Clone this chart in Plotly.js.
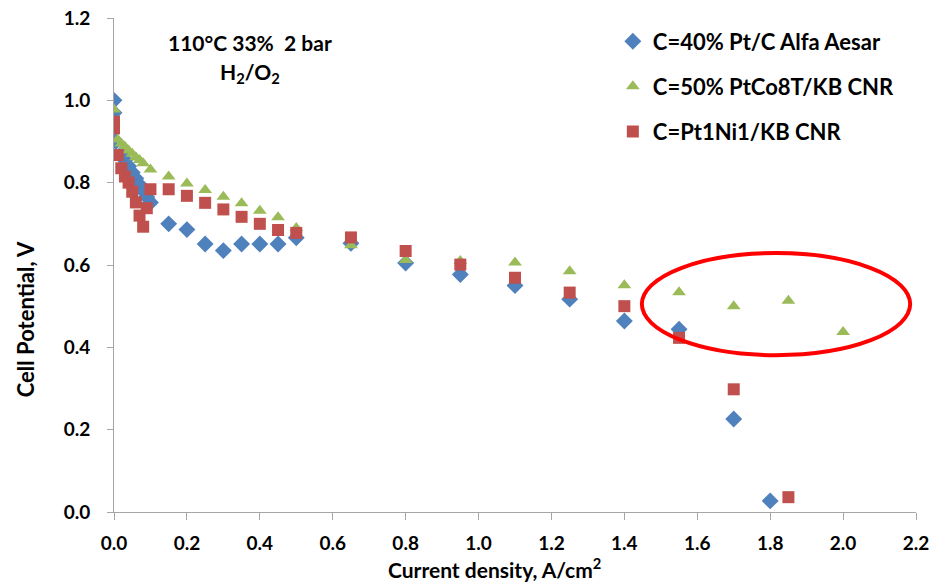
<!DOCTYPE html>
<html>
<head>
<meta charset="utf-8">
<script src="https://cdn.plot.ly/plotly-3.0.1.min.js"></script>
<style>html,body{margin:0;padding:0;background:#fff;}#chart{width:934px;height:587px;}</style>
</head>
<body>
<div id="chart"></div>
<script>
// Series 1: C=40% Pt/C Alfa Aesar
const ptcX = [0, 0, 0.005, 0.02, 0.03, 0.04, 0.05, 0.06, 0.07, 0.08, 0.09, 0.1,
  0.15, 0.2, 0.25, 0.3, 0.35, 0.4, 0.45, 0.5, 0.65, 0.8, 0.95, 1.1, 1.25, 1.4, 1.55, 1.7, 1.8];
const ptcY = [1.0, 0.97, 0.90, 0.87, 0.855, 0.84, 0.825, 0.81, 0.795, 0.78, 0.765, 0.752,
  0.70, 0.686, 0.651, 0.635, 0.651, 0.651, 0.651, 0.666, 0.653, 0.605, 0.577, 0.55, 0.517, 0.464, 0.444, 0.226, 0.027];

// Series 2: C=50% PtCo8T/KB CNR
const ptcoX = [0, 0.01, 0.02, 0.03, 0.04, 0.05, 0.06, 0.07, 0.08, 0.1,
  0.15, 0.2, 0.25, 0.3, 0.35, 0.4, 0.45, 0.5, 0.65, 0.8, 0.95, 1.1, 1.25, 1.4, 1.55, 1.7, 1.85, 2.0];
const ptcoY = [0.978, 0.905, 0.895, 0.887, 0.878, 0.87, 0.862, 0.855, 0.847, 0.832,
  0.815, 0.798, 0.782, 0.766, 0.75, 0.732, 0.716, 0.69, 0.648, 0.612, 0.61, 0.606, 0.585, 0.551, 0.534, 0.5, 0.513, 0.437];

// Series 3: C=Pt1Ni1/KB CNR
const ptniX = [0, 0, 0.01, 0.02, 0.03, 0.04, 0.05, 0.06, 0.07, 0.08, 0.09, 0.1,
  0.15, 0.2, 0.25, 0.3, 0.35, 0.4, 0.45, 0.5, 0.65, 0.8, 0.95, 1.1, 1.25, 1.4, 1.55, 1.7, 1.85];
const ptniY = [0.948, 0.932, 0.867, 0.835, 0.815, 0.80, 0.778, 0.752, 0.72, 0.693, 0.738, 0.784,
  0.784, 0.768, 0.751, 0.735, 0.717, 0.70, 0.685, 0.678, 0.667, 0.634, 0.601, 0.569, 0.533, 0.5, 0.423, 0.298, 0.036];

const seriesNames = ["C=40% Pt/C Alfa Aesar", "C=50% PtCo8T/KB CNR", "C=Pt1Ni1/KB CNR"];
const xTicks = [0, 0.2, 0.4, 0.6, 0.8, 1.0, 1.2, 1.4, 1.6, 1.8, 2.0, 2.2];
const yTicks = [0, 0.2, 0.4, 0.6, 0.8, 1.0, 1.2];

const FONT = "Lato, 'Liberation Sans', sans-serif";

const traces = [
  {x: ptcX, y: ptcY, name: seriesNames[0], legendgroup: 'a', type: 'scatter', mode: 'markers',
   marker: {symbol: 'diamond', size: 13, color: '#4F81BD'}},
  {x: ptcoX, y: ptcoY, name: seriesNames[1], legendgroup: 'b', type: 'scatter', mode: 'markers',
   marker: {symbol: 'triangle-up', size: 12, color: '#9BBB59'}},
  {x: ptniX, y: ptniY, name: seriesNames[2], legendgroup: 'c', type: 'scatter', mode: 'markers',
   marker: {symbol: 'square', size: 12, color: '#C0504D'}}
];

const layout = {
  width: 934, height: 587,
  margin: {l: 114, r: 18, t: 18, b: 75},
  paper_bgcolor: '#fff', plot_bgcolor: '#fff',
  font: {family: FONT, color: '#000'},
  showlegend: true,
  legend: {x: 0.622, y: 0.995, xanchor: 'left', yanchor: 'top', traceorder: 'grouped', tracegroupgap: 13.5,
    font: {family: FONT, size: 22, color: '#000', weight: 'bold'}, bgcolor: 'rgba(0,0,0,0)'},
  xaxis: {range: [0, 2.2], tickvals: xTicks, ticktext: xTicks.map(v => v.toFixed(1)),
    showgrid: false, zeroline: false, showline: true, linecolor: '#A6A6A6', linewidth: 1,
    ticks: 'outside', ticklen: 7, tickcolor: '#A6A6A6', ticklabelstandoff: 7,
    tickfont: {family: FONT, size: 19, weight: 'bold', color: '#000'}},
  yaxis: {range: [0, 1.2], tickvals: yTicks, ticktext: yTicks.map(v => v.toFixed(1)),
    showgrid: false, zeroline: false, showline: true, linecolor: '#A6A6A6', linewidth: 1,
    ticks: 'outside', ticklen: 6, tickcolor: '#A6A6A6', ticklabelstandoff: 13,
    tickfont: {family: FONT, size: 19, weight: 'bold', color: '#000'}},
  shapes: [{type: 'circle', xref: 'x', yref: 'y', x0: 1.448, x1: 2.184, y0: 0.381, y1: 0.629,
    line: {color: '#FF0000', width: 4}}],
  annotations: [
    {xref: 'paper', yref: 'paper', x: 0.1696, y: 0.951, xanchor: 'center', yanchor: 'middle',
     text: '110°C 33%  2 bar', showarrow: false,
     font: {family: FONT, size: 21, weight: 'bold', color: '#000'}},
    {xref: 'paper', yref: 'paper', x: 0.1696, y: 0.889, xanchor: 'center', yanchor: 'middle',
     text: 'H<sub>2</sub>/O<sub>2</sub>', showarrow: false,
     font: {family: FONT, size: 21, weight: 'bold', color: '#000'}},
    {xref: 'paper', yref: 'paper', x: 0.475, y: -0.113, xanchor: 'center', yanchor: 'middle',
     text: 'Current density, A/cm<sup>2</sup>', showarrow: false,
     font: {family: FONT, size: 21, weight: 'bold', color: '#000'}},
    {xref: 'paper', yref: 'paper', x: -0.111, y: 0.39, xanchor: 'center', yanchor: 'middle',
     text: 'Cell Potential, V', showarrow: false, textangle: -90,
     font: {family: FONT, size: 22, weight: 'bold', color: '#000'}}
  ]
};

Plotly.newPlot('chart', traces, layout, {displayModeBar: false, staticPlot: true});
</script>
</body>
</html>
